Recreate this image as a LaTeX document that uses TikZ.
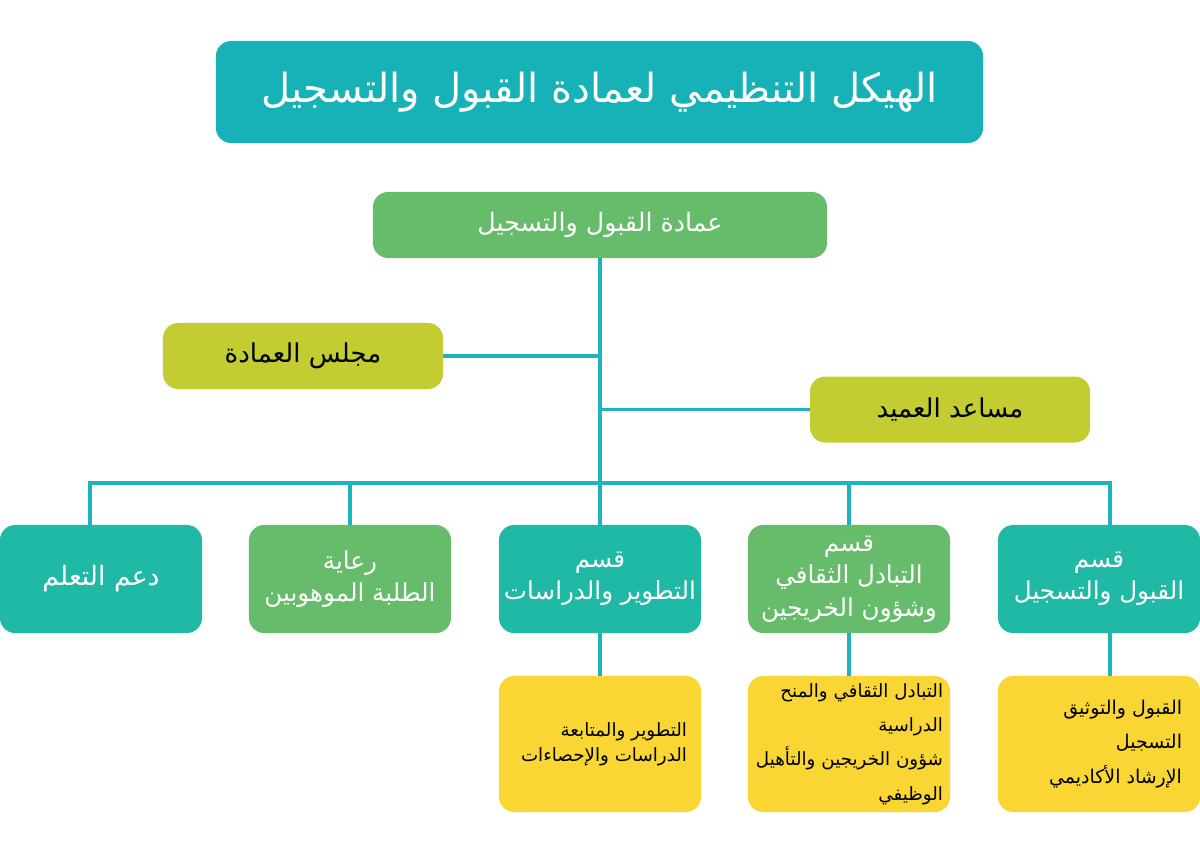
\documentclass[tikz,border=0pt]{standalone}
\usepackage{fontspec}
\usepackage{tikz}
\TeXXeTstate=1
\newfontfamily\arabicfont[Script=Arabic]{DejaVu Sans}
\newcommand{\ar}[1]{\mbox{\arabicfont\beginR #1\endR}}
\newcommand{\unittext}[2]{\parbox[c][3.1cm][c]{#1}{\raggedleft #2}}

\definecolor{titleteal}{RGB}{23,177,184}
\definecolor{deangreen}{RGB}{102,188,107}
\definecolor{olive}{RGB}{195,204,48}
\definecolor{deptteal}{RGB}{31,185,165}
\definecolor{unityellow}{RGB}{249,214,52}
\definecolor{linkcol}{RGB}{30,180,190}

\begin{document}
\begin{tikzpicture}[x=0.025cm, y=-0.025cm,
    box/.style={rectangle, rounded corners=0.38cm, align=center, inner sep=0pt},
    dept/.style={box, text=white, minimum width=5.05cm, minimum height=2.7cm,
        font=\fontsize{17.5}{23}\selectfont},
    unit/.style={rectangle, rounded corners=0.38cm, inner sep=0pt, fill=unityellow,
        minimum width=5.05cm, minimum height=3.4cm, font=\fontsize{13.5}{24.5}\selectfont},
    link/.style={draw=linkcol, line width=2.8pt}]
        \useasboundingbox (0,0) rectangle (1200,849);

        % Title
        \node[box, fill=titleteal, text=white, minimum width=19.175cm, minimum height=2.55cm,
            font=\fontsize{28.5}{32}\selectfont] (title) at (599.5, 92) {\ar{الهيكل التنظيمي لعمادة القبول والتسجيل}};

        % Deanship
        \node[box, fill=deangreen, text=white, minimum width=11.35cm, minimum height=1.65cm,
            font=\fontsize{18}{22}\selectfont] (dean) at (600, 225) {\ar{عمادة القبول والتسجيل}};

        % Council and assistant
        \node[box, fill=olive, minimum width=7cm, minimum height=1.65cm,
            font=\fontsize{18.5}{22}\selectfont] (council) at (303, 356) {\ar{مجلس العمادة}};
        \node[box, fill=olive, minimum width=7cm, minimum height=1.65cm,
            font=\fontsize{18.5}{22}\selectfont] (assistant) at (950, 409.5) {\ar{مساعد العميد}};

        % Departments
        \node[dept, fill=deptteal, font=\fontsize{19}{23}\selectfont] (b1) at (101, 579) {\ar{دعم التعلم}};
        \node[dept, fill=deangreen] (b2) at (350, 579) {\ar{رعاية}\\\ar{الطلبة الموهوبين}};
        \node[dept, fill=deptteal] (b3) at (600, 579) {\ar{قسم}\\\ar{التطوير والدراسات}};
        \node[dept, fill=deangreen] (b4) at (849, 579) {\ar{قسم}\\\ar{التبادل الثقافي}\\\ar{وشؤون الخريجين}};
        \node[dept, fill=deptteal] (b5) at (1099, 579) {\ar{قسم}\\\ar{القبول والتسجيل}};

        % Units
        \node[unit, font=\fontsize{13}{17.5}\selectfont] (y3) at (600, 744)
            {\unittext{4.35cm}{\ar{التطوير والمتابعة}\\\ar{الدراسات والإحصاءات}}};
        \node[unit, font=\fontsize{13}{24.5}\selectfont] (y4) at (849, 744)
            {\unittext{4.7cm}{\ar{التبادل الثقافي والمنح}\\\ar{الدراسية}\\\ar{شؤون الخريجين والتأهيل}\\\ar{الوظيفي}}};
        \node[unit] (y5) at (1099, 744)
            {\unittext{4.15cm}{\ar{القبول والتوثيق}\\\ar{التسجيل}\\\ar{الإرشاد الأكاديمي}}};

        % Connectors
        \coordinate (bus) at (600, 483);
        \draw[link] (dean.south) -- (bus);
        \draw[link] (council.east) -| (dean.south);
        \draw[link] (assistant.west) -| (dean.south);
        \draw[link] ([xshift=-0.275cm]b1.north) -- ++(0,-42) -| ([xshift=0.275cm]b5.north);
        \foreach \n in {b2,b3,b4}
            \draw[link] (\n.north) -- (\n.north |- bus);
        \draw[link] (b3.south) -- (y3.north);
        \draw[link] (b4.south) -- (y4.north);
        \draw[link] ([xshift=0.275cm]b5.south) -- ([xshift=0.275cm]y5.north);
    \end{tikzpicture}
\end{document}
